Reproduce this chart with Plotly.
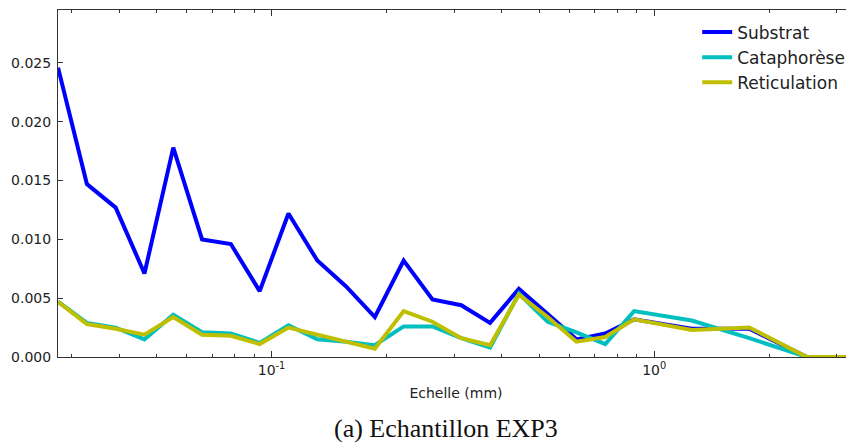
import plotly.graph_objects as go

# Scale (mm) values
echelle = [0.02768, 0.03292, 0.03915, 0.04655, 0.05536, 0.06583, 0.07829, 0.09311,
           0.1107, 0.1317, 0.1566, 0.1862, 0.2214, 0.2633, 0.3132, 0.3724, 0.4429,
           0.5267, 0.6263, 0.7448, 0.8858, 1.253, 1.772, 2.505, 3.543]

substrat = [0.0246, 0.0147, 0.0127, 0.0071, 0.0178, 0.0100, 0.0096, 0.0056, 0.0122,
            0.0082, 0.0060, 0.0034, 0.0082, 0.0049, 0.0044, 0.0029, 0.0058, 0.0036,
            0.0015, 0.0020, 0.0032, 0.0024, 0.0024, 0.0, 0.0]

cataphorese = [0.0047, 0.0029, 0.0025, 0.0015, 0.0036, 0.0021, 0.0020, 0.0012, 0.0027,
               0.0015, 0.0013, 0.0010, 0.0026, 0.0026, 0.0016, 0.0008, 0.0054, 0.0030,
               0.0021, 0.0011, 0.0039, 0.0031, 0.0016, 0.0, 0.0]

reticulation = [0.0047, 0.0028, 0.0024, 0.0019, 0.0034, 0.0019, 0.0018, 0.0011, 0.0025,
                0.0019, 0.0013, 0.0007, 0.0039, 0.0030, 0.0016, 0.0010, 0.0053, 0.0034,
                0.0013, 0.0017, 0.0032, 0.0023, 0.0025, 0.0, 0.0]

series_names = ["Substrat", "Cataphorèse", "Reticulation"]
series_colors = ["#0000ff", "#00bfbf", "#bfbf00"]
series_values = [substrat, cataphorese, reticulation]

y_ticks = [0.0, 0.005, 0.010, 0.015, 0.020, 0.025]
x_tickvals = [0.1, 1.0]
x_ticktext = ["10<sup>-1</sup>", "10<sup>0</sup>"]
x_minor_ticks = [0.03, 0.04, 0.05, 0.06, 0.07, 0.08, 0.09,
                 0.2, 0.3, 0.4, 0.5, 0.6, 0.7, 0.8, 0.9, 2.0, 3.0]

fig = go.Figure()
for name, color, vals in zip(series_names, series_colors, series_values):
    fig.add_trace(go.Scatter(x=echelle, y=vals, mode="lines", name=name,
                             line=dict(color=color, width=4)))

axis_font = dict(family="DejaVu Sans", size=14, color="#222222")

fig.update_layout(
    width=846, height=435,
    margin=dict(l=50, r=0, t=2, b=86),
    paper_bgcolor="white", plot_bgcolor="white",
    showlegend=True,
    legend=dict(x=0.803, y=0.987, xanchor="left", yanchor="top",
                bgcolor="rgba(0,0,0,0)", borderwidth=0,
                font=dict(family="DejaVu Sans", size=17, color="#222222"),
                itemwidth=30),
    xaxis=dict(type="log", range=[-1.558, 0.522],
               showgrid=False, zeroline=False,
               showline=True, linecolor="#333333", linewidth=1, mirror="ticks",
               ticks="inside", ticklen=6, tickcolor="#333333",
               tickvals=x_tickvals, ticktext=x_ticktext, tickfont=axis_font,
               minor=dict(tickmode="array", tickvals=x_minor_ticks,
                          ticks="inside", ticklen=3, tickcolor="#333333", showgrid=False),
               title=dict(text="Echelle (mm)", font=dict(family="DejaVu Sans", size=14, color="#222222"),
                          standoff=11)),
    yaxis=dict(range=[0, 0.0295],
               showgrid=False, zeroline=False,
               showline=True, linecolor="#333333", linewidth=1, mirror=False,
               ticks="inside", ticklen=5, tickcolor="#333333",
               tickvals=y_ticks, tickformat=".3f", tickfont=axis_font,
               ticklabelstandoff=3),
)

fig.add_annotation(text="(a) Echantillon EXP3", xref="paper", yref="paper",
                   x=0.488, y=-0.205, xanchor="center", yanchor="middle",
                   showarrow=False,
                   font=dict(family="Liberation Serif", size=26, color="#111111"))

fig.write_html("out.html")
